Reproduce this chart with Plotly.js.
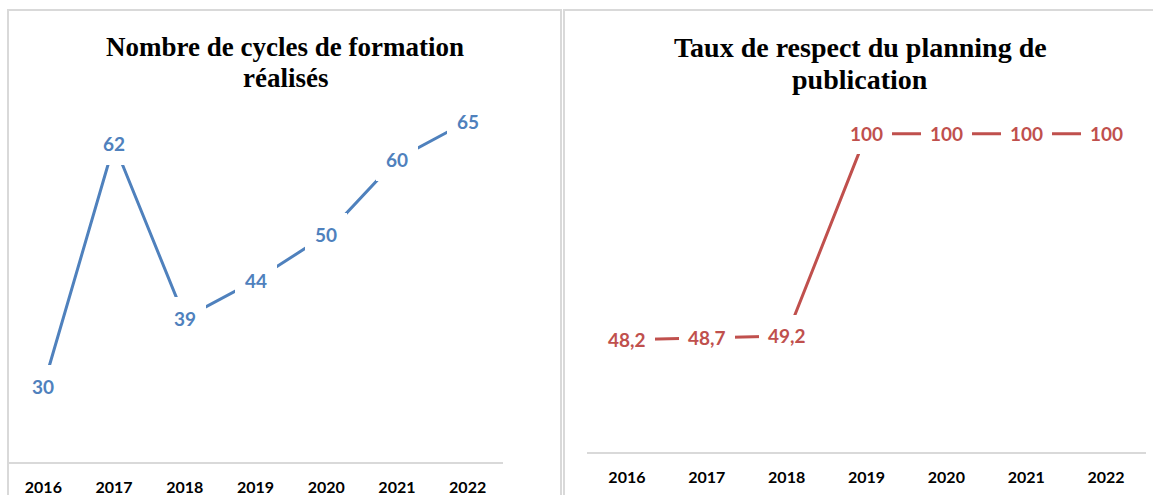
<!DOCTYPE html>
<html>
<head>
<meta charset="utf-8">
<script src="https://cdn.plot.ly/plotly-3.0.1.min.js"></script>
<style>
html,body{margin:0;padding:0;background:#fff;}
#chart{width:1153px;height:495px;}
</style>
</head>
<body>
<div id="chart"></div>
<script>
const years = ['2016','2017','2018','2019','2020','2021','2022'];
const cyclesFormation = [30, 62, 39, 44, 50, 60, 65];
const tauxRespect = [48.2, 48.7, 49.2, 100, 100, 100, 100];
const titleLeftLines = ['Nombre de cycles de formation', 'réalisés'];
const titleRightLines = ['Taux de respect du planning de', 'publication'];

const W = 1153, H = 495;
const px = v => v / W;
const py = v => 1 - v / H;

const blue = '#4F81BD';
const red = '#C0504D';
const grey = '#D9D9D9';

const fmt = v => String(v).replace('.', ',');

const traces = [
  {x: years, y: cyclesFormation, xaxis: 'x', yaxis: 'y', type: 'scatter', mode: 'lines',
   line: {color: blue, width: 3}, hoverinfo: 'skip'},
  {x: years, y: tauxRespect, xaxis: 'x2', yaxis: 'y2', type: 'scatter', mode: 'lines',
   line: {color: red, width: 3}, hoverinfo: 'skip'}
];

const labelFont = c => ({family: 'Lato, "Open Sans", sans-serif', size: 19, color: c});
const annotations = [];
years.forEach((yr, i) => {
  annotations.push({x: i, y: cyclesFormation[i], xref: 'x', yref: 'y', text: '<b>' + fmt(cyclesFormation[i]) + '</b>',
    showarrow: false, bgcolor: '#ffffff', borderpad: 10, borderwidth: 0, font: labelFont(blue),
    xanchor: 'center', yanchor: 'middle'});
  annotations.push({x: i, y: tauxRespect[i], xref: 'x2', yref: 'y2', text: '<b>' + fmt(tauxRespect[i]) + '</b>',
    showarrow: false, bgcolor: '#ffffff', borderpad: 9, borderwidth: 0, font: labelFont(red),
    xanchor: 'center', yanchor: 'middle'});
});
const titleFont = s => ({family: '"Liberation Serif", "Times New Roman", serif', size: s, color: '#000'});
[[titleLeftLines, 285, [47, 78], 27], [titleRightLines, 860, [48, 79], 28]].forEach(([lines, cx, ys, s]) => {
  lines.forEach((t, k) => {
    annotations.push({xref: 'paper', yref: 'paper', x: px(cx), y: py(ys[k]), xanchor: 'center', yanchor: 'middle',
      text: '<b>' + t + '</b>', showarrow: false, font: titleFont(s)});
  });
});

const tickFont = {family: 'Lato, "Open Sans", sans-serif', size: 16, color: '#000', weight: 'bold'};
const xCommon = {type: 'category', range: [-0.5, 6.5], showgrid: false, zeroline: false,
  showline: true, linecolor: grey, linewidth: 2, ticks: '', tickfont: tickFont, ticklabelstandoff: 10, fixedrange: true};
const yCommon = {type: 'linear', showgrid: false, zeroline: false, showline: false, showticklabels: false, ticks: '', fixedrange: true};

const layout = {
  width: W, height: H,
  margin: {l: 0, r: 0, t: 0, b: 0},
  paper_bgcolor: '#fff', plot_bgcolor: 'rgba(0,0,0,0)',
  showlegend: false,
  xaxis: Object.assign({}, xCommon, {domain: [px(8), px(503)], anchor: 'y'}),
  yaxis: Object.assign({}, yCommon, {domain: [py(462), py(83.4)], range: [20, 70], anchor: 'x'}),
  xaxis2: Object.assign({}, xCommon, {domain: [px(587), px(1146)], anchor: 'y2'}),
  yaxis2: Object.assign({}, yCommon, {domain: [py(452), py(54.3)], range: [20, 120], anchor: 'x2'}),
  annotations: annotations,
  shapes: [
    {type: 'rect', xref: 'paper', yref: 'paper', x0: px(8), x1: px(561), y0: -0.1, y1: py(10),
     line: {color: grey, width: 2}, fillcolor: 'rgba(0,0,0,0)', layer: 'below'},
    {type: 'rect', xref: 'paper', yref: 'paper', x0: px(564), x1: 1.1, y0: -0.1, y1: py(10),
     line: {color: grey, width: 2}, fillcolor: 'rgba(0,0,0,0)', layer: 'below'}
  ]
};

Plotly.newPlot('chart', traces, layout, {staticPlot: true, displayModeBar: false});
</script>
</body>
</html>
